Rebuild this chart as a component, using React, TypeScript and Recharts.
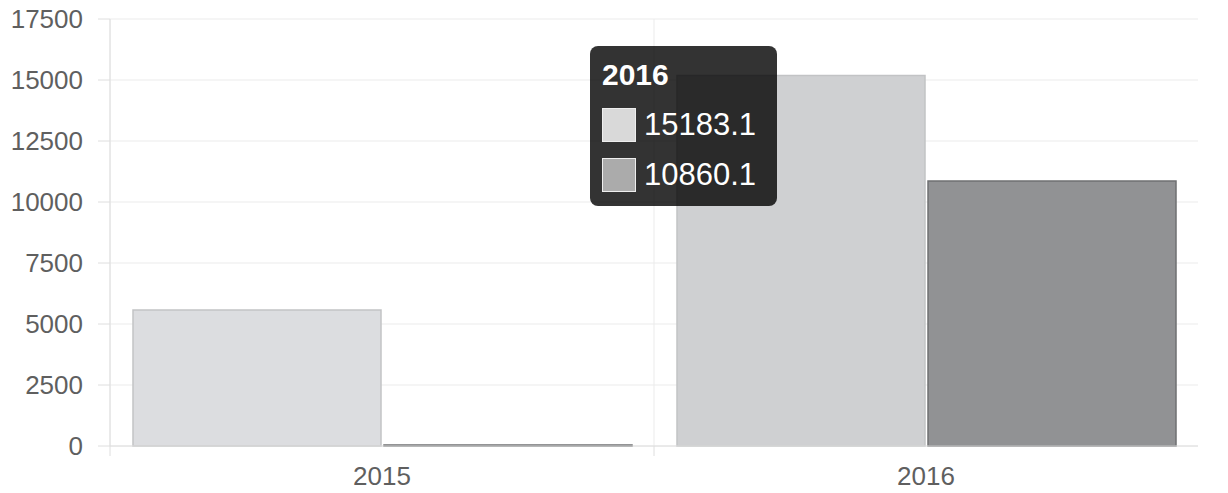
import { BarChart, Bar, XAxis, YAxis, CartesianGrid, Tooltip, Cell } from "recharts";

const years = ["2015", "2016"];
const seriesA = [5573.4, 15183.1];
const seriesB = [45.2, 10860.1];
const yTicks = [0, 2500, 5000, 7500, 10000, 12500, 15000, 17500];

const data = years.map((year, i) => ({ year, a: seriesA[i], b: seriesB[i] }));

const FONT = "'Liberation Sans', Arial, sans-serif";
const GRID = "#ebebeb";
const AXIS = "#dedede";
const TICK_SIZE = 10;
const TICK_MARGIN = 11;

// category ticks: label in the middle, tick mark on the band's left edge
function YearTick(props: any) {
  const { x, y, payload, width, visibleTicksCount } = props;
  const half = width / visibleTicksCount / 2;
  const axisY = y - TICK_SIZE - TICK_MARGIN;
  return (
    <g>
      <line x1={x - half} x2={x - half} y1={axisY} y2={axisY + TICK_SIZE} stroke={AXIS} />
      <text x={x} y={y} dy="0.71em" textAnchor="middle" fontSize={26} fill="#5f5f5f" fontFamily={FONT}>
        {payload.value}
      </text>
    </g>
  );
}

function BoxTooltip({ active, payload, label }: any) {
  if (!active || !payload?.length) return null;
  const swatches = ["#d9d9d9", "#ababab"];
  return (
    <div
      style={{
        width: 187,
        height: 160,
        boxSizing: "border-box",
        padding: "11px 10px 0 12px",
        background: "rgba(0,0,0,0.8)",
        borderRadius: 8,
        color: "#fff",
        fontFamily: FONT,
      }}
    >
      <div style={{ fontSize: 30, fontWeight: "bold", lineHeight: "36px" }}>{label}</div>
      {payload.map((p: any, i: number) => (
        <div key={p.dataKey} style={{ display: "flex", alignItems: "center", height: 34, marginTop: i === 0 ? 15 : 16 }}>
          <div style={{ width: 32, height: 32, background: swatches[i], border: "1px solid #eee" }} />
          <span style={{ fontSize: 31, marginLeft: 8 }}>{p.value}</span>
        </div>
      ))}
    </div>
  );
}

export default function App() {
  return (
    <div style={{ position: "absolute", left: 0, top: 0, width: 1228, height: 493, background: "#fff" }}>
      <BarChart
        width={1228}
        height={493}
        data={data}
        margin={{ top: 19, right: 30, left: 0, bottom: 0 }}
        barCategoryGap={23}
        barGap={3}
      >
        <CartesianGrid
          stroke={GRID}
          verticalCoordinatesGenerator={({ offset }: any) =>
            years.map((_, i) => offset.left + (i * offset.width) / years.length)
          }
        />
        <XAxis
          dataKey="year"
          height={47}
          tickSize={TICK_SIZE}
          tickMargin={TICK_MARGIN}
          tickLine={false}
          axisLine={{ stroke: AXIS }}
          tick={<YearTick />}
        />
        <YAxis
          width={110}
          domain={[0, 17500]}
          ticks={yTicks}
          tickSize={12}
          tickMargin={15}
          axisLine={{ stroke: AXIS }}
          tickLine={{ stroke: AXIS }}
          tick={{ fontSize: 26, fill: "#5f5f5f", fontFamily: FONT }}
        />
        <Tooltip
          active
          defaultIndex={1}
          position={{ x: 590, y: 46 }}
          cursor={false}
          isAnimationActive={false}
          content={<BoxTooltip />}
        />
        <Bar dataKey="a" stroke="#c2c3c5" strokeWidth={1.5} isAnimationActive={false}>
          {data.map((d, i) => (
            <Cell key={d.year} fill={i === 1 ? "#cfd0d2" : "#dcdde0"} />
          ))}
        </Bar>
        <Bar dataKey="b" fill="#919294" stroke="#6f7072" strokeWidth={1.5} isAnimationActive={false} />
      </BarChart>
    </div>
  );
}
